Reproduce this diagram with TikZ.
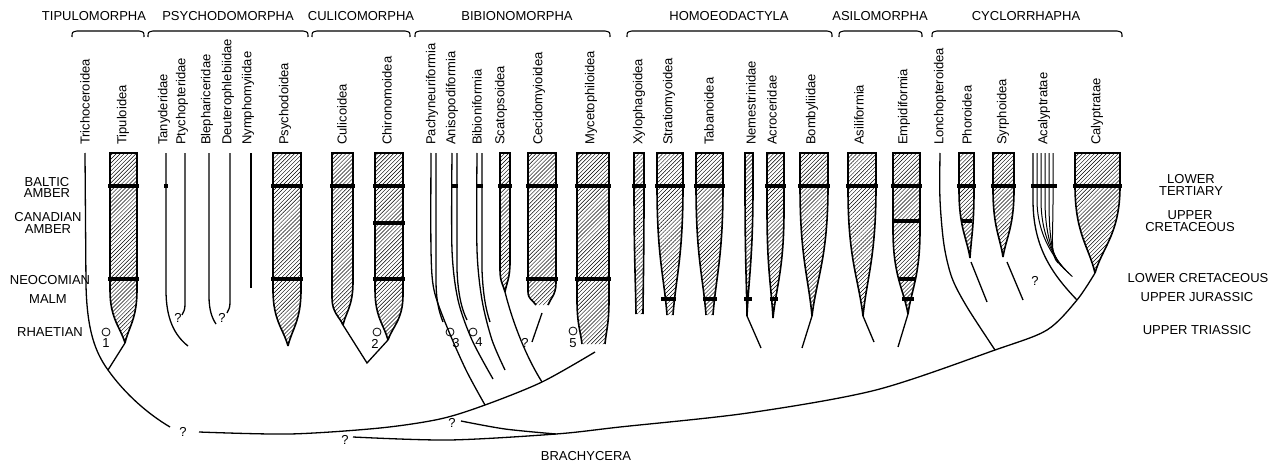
\documentclass[tikz,border=0pt]{standalone}
\usepackage{fontspec}
\setmainfont{Liberation Sans}
\usetikzlibrary{patterns.meta}

\newcommand\lblfont{\fontsize{13}{11.7}\selectfont}

% hatched range: xl xr ysl ysr xbl xbr yb
\newcommand\spindle[7]{%
  \fill[hatch] (#1,153) -- (#1,#3)
    .. controls (#1,{#3+0.55*(#7-#3)}) and ({#5+0.3*(#1-#5)},{#7-0.3*(#7-#3)}) .. (#5,#7)
    -- (#6,#7)
    .. controls ({#6+0.3*(#2-#6)},{#7-0.3*(#7-#4)}) and (#2,{#4+0.55*(#7-#4)}) .. (#2,#4)
    -- (#2,153) -- cycle;
  \draw[edge] (#5,#7)
    .. controls ({#5+0.3*(#1-#5)},{#7-0.3*(#7-#3)}) and (#1,{#3+0.55*(#7-#3)}) .. (#1,#3)
    -- (#1,153) -- (#2,153) -- (#2,#4)
    .. controls (#2,{#4+0.55*(#7-#4)}) and ({#6+0.3*(#2-#6)},{#7-0.3*(#7-#4)}) .. (#6,#7);
}

\begin{document}
\begin{tikzpicture}[x=1pt, y=-1pt,
    grp/.style={font=\lblfont, inner sep=0pt},
    taxon/.style={rotate=90, anchor=west, font=\lblfont, inner sep=0pt},
    era/.style={align=center, font=\lblfont, inner sep=0pt},
    brace/.style={line width=1.1pt},
    stem/.style={line width=1.3pt},
    edge/.style={line width=1.6pt},
    hatch/.style={pattern={Lines[angle=45,distance=2.8pt,line width=0.45pt]}},
    bar/.style={line width=3.6pt},
    ring/.style={circle, draw, line width=0.8pt, minimum size=8pt, inner sep=0pt},
    qm/.style={font=\lblfont, inner sep=0pt},
  ]
  \useasboundingbox (0,0) rectangle (1282,468);

  % Groups
  \node[grp] (tipulomorpha)  at (94,16)   {TIPULOMORPHA};
  \node[grp] (psychodomorpha) at (228,16) {PSYCHODOMORPHA};
  \node[grp] (culicomorpha)  at (361,16)  {CULICOMORPHA};
  \node[grp] (bibionomorpha) at (517,16)  {BIBIONOMORPHA};
  \node[grp] (homoeodactyla) at (729,16)  {HOMOEODACTYLA};
  \node[grp] (asilomorpha)   at (880,16)  {ASILOMORPHA};
  \node[grp] (cyclorrhapha)  at (1026,16) {CYCLORRHAPHA};
  \foreach \a/\b in {72/144, 148/308, 312/410, 415/610, 627/832, 839/922, 932/1122}
    \draw[brace] (\a,37) .. controls (\a,32) .. ({\a+5},31) -- ({\b-5},31) .. controls (\b,32) .. (\b,37);

  % Taxa
  \foreach \x/\n in {85/Trichoceroidea, 123/Tipuloidea, 164/Tanyderidae, 182/Ptychopteridae,
      207/Blephariceridae, 228/Deuterophlebiidae, 248/Nymphomyiidae, 285/Psychodoidea,
      342/Culicoidea, 387/Chironomoidea, 432/Pachyneuriformia, 452/Anisopodiformia,
      477/Bibioniformia, 501/Scatopsoidea, 539/Cecidomyioidea, 591/Mycetophiloidea,
      639/Xylophagoidea, 669/Stratiomyoidea, 709/Tabanoidea, 751/Nemestrinidae,
      772/Acroceridae, 812/Bombyliidae, 859/Asiliformia, 904/Empidiformia,
      940/Lonchopteroidea, 967/Phoroidea, 1003/Syrphoidea, 1044/Acalyptratae, 1097/Calyptratae}
    \node[taxon] (\n) at (\x,145) {\n};

  % Time scale
  \node[era] (baltic)   at (47,187.5) {BALTIC\\AMBER};
  \node[era] (canadian) at (48,223)   {CANADIAN\\AMBER};
  \node[era] (neocom)   at (50,280)   {NEOCOMIAN};
  \node[era] (malm)     at (48,299)   {MALM};
  \node[era] (rhaet)    at (50,332)   {RHAETIAN};
  \node[era] (lterti)   at (1191,185) {LOWER\\TERTIARY};
  \node[era] (ucreta)   at (1190,221) {UPPER\\CRETACEOUS};
  \node[era] (lcreta)   at (1198,278) {LOWER CRETACEOUS};
  \node[era] (ujura)    at (1197,297) {UPPER JURASSIC};
  \node[era] (utrias)   at (1197,330) {UPPER TRIASSIC};
  \node[era] (brachy)   at (586,456)  {BRACHYCERA};

  % Hatched ranges
  \spindle{110}{137}{290}{290}{125}{125}{343}
  \spindle{273}{301}{290}{290}{288}{288}{346}
  \spindle{332}{353}{298}{282}{343}{343}{325}
  \spindle{375}{403}{290}{295}{388}{388}{340}
  \spindle{500}{510}{270}{262}{505}{505}{292}
  \spindle{528}{556}{292}{283}{536}{548}{305}
  \spindle{577}{609}{300}{300}{582}{605}{344}
  \spindle{634}{644}{186}{186}{636}{643}{314}
  \spindle{657}{683}{186}{186}{667}{673}{315}
  \spindle{696}{723}{186}{186}{706}{713}{315}
  \spindle{745}{753}{186}{186}{747}{747}{316}
  \spindle{767}{784}{210}{210}{773}{773}{318}
  \spindle{800}{828}{186}{186}{812}{812}{316}
  \spindle{848}{876}{190}{186}{863}{863}{316}
  \spindle{893}{920}{230}{230}{908}{908}{314}
  \spindle{959}{974}{190}{190}{970}{970}{258}
  \spindle{993}{1014}{190}{190}{1003}{1003}{257}
  \spindle{1075}{1120}{186}{186}{1095}{1095}{273}

  % Single lineages
  \coordinate (j1) at (108,370);
  \draw[stem] (85,153) -- (86,285) .. controls (87,330) and (95,352) .. (j1)
    .. controls (125,394) and (148,414) .. (170,427);
  \draw[stem] (125,343) -- (j1);
  \draw[stem] (166,153) -- (166,290) .. controls (166,318) and (174,335) .. (188,346);
  \draw[stem] (185,153) -- (185,304) .. controls (185,309) and (184,312) .. (182,315);
  \draw[stem] (209,153) -- (209,296) .. controls (209,310) and (212,318) .. (216,324);
  \draw[stem] (230,153) -- (230,302) .. controls (230,307) and (229,310) .. (227,313);
  \draw[stem] (251,153) -- (251,288);
  \coordinate (j2) at (367,363);
  \draw[stem] (343,325) -- (j2) -- (388,340);

  % Bibionomorpha
  \draw[stem] plot[smooth] coordinates {(199,432) (290,434) (380,428) (440,419) (485,405) (542,382) (595,352)};
  \draw[stem] plot[smooth] coordinates {(431,153) (431,250) (434,290) (447,327) (466,370) (485,405)};
  \draw[stem] (436,153) -- (436,280) .. controls (436,300) and (439,312) .. (443,322);
  \draw[stem] plot[smooth] coordinates {(452,153) (452,250) (458,300) (472,340) (493,379)};
  \draw[stem] (457,153) -- (457,270) .. controls (458,295) and (462,310) .. (467,320);
  \draw[stem] plot[smooth] coordinates {(477,153) (477,250) (482,300) (492,340) (505,370)};
  \draw[stem] (482,153) -- (482,270) .. controls (483,295) and (486,310) .. (490,322);
  \draw[stem] (505,292) .. controls (512,320) and (525,355) .. (542,382);
  \draw[stem] (542,313) -- (532,342);

  % Brachycera
  \draw[stem] plot[smooth] coordinates {(353,437) (449,440) (556,434) (620,427) (748,413) (876,390) (995,350) (1047,330) (1077,300) (1095,273)};
  \draw[stem] plot[smooth] coordinates {(461,421) (505,429) (556,434)};
  \draw[stem] (747,316) -- (761,348);
  \draw[stem] (812,316) -- (802,348);
  \draw[stem] (863,316) -- (874,342);
  \draw[stem] (908,314) -- (898,347);
  \draw[stem] plot[smooth] coordinates {(940,153) (940,200) (944,245) (952,278) (967,307) (995,350)};
  \draw[stem] (971,262) -- (987,302);
  \draw[stem] (1007,262) -- (1023,300);
  % Acalyptratae fan
  \draw[stem] (1033,153) -- (1033,200) .. controls (1033,245) and (1050,272) .. (1077,300);
  \foreach \i in {1,...,5}
    \draw[stem, line width=1pt] ({1033+4*\i},153) -- ({1033+4*\i},200)
      .. controls ({1033+4*\i},240) and ({1062-2.4*\i},{268-2.6*\i}) .. ({1076-3.6*\i},{280-3.4*\i});

  % Bars
  \foreach \a/\b/\y in {108/139/186, 108/139/279, 164/168/186, 271/303/186, 271/303/279,
      330/355/186, 373/405/186, 373/405/223, 373/405/279, 451/458/186, 476/483/186,
      498/512/186, 526/558/186, 526/558/279, 575/611/186, 575/611/279,
      632/646/186, 655/685/186, 661/676/299, 694/725/186, 703/717/299, 744/752/299,
      765/786/186, 770/778/299, 798/830/186, 846/878/186,
      891/922/186, 892/921/221, 898/916/279, 902/914/299,
      957/976/186, 961/972/221, 991/1016/186, 1031/1057/186, 1073/1122/186}
    \draw[bar] (\a,\y) -- (\b,\y);

  % Marks
  \node[ring] (o1) at (106,332) {};
  \node[qm] (n1) at (106,343) {1};
  \node[ring] (o2) at (377,332) {};
  \node[qm] (n2) at (375,344) {2};
  \node[ring] (o3) at (450,332) {};
  \node[qm] (n3) at (456,343) {3};
  \node[ring] (o4) at (473,332) {};
  \node[qm] (n4) at (479,342) {4};
  \node[ring] (o5) at (573,331) {};
  \node[qm] (n5) at (573,343) {5};
  \foreach \x/\y [count=\k] in {178/318, 222/318, 525/343, 1035/281, 183/432, 345/440, 452/423}
    \node[qm] (q\k) at (\x,\y) {?};
\end{tikzpicture}
\end{document}
